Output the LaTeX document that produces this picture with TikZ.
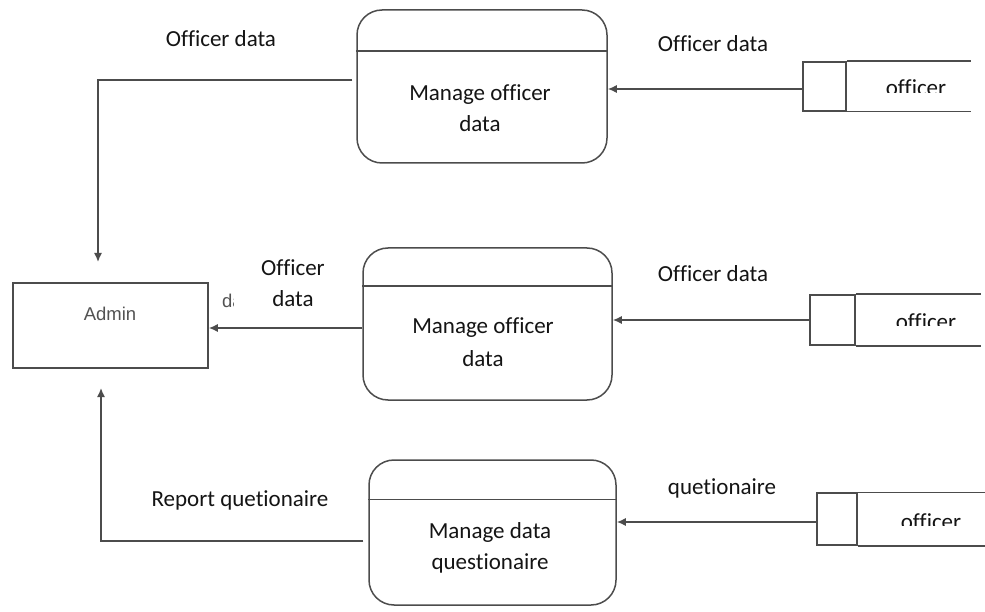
\documentclass[tikz,border=0pt]{standalone}
\usepackage{fontspec}
\setmainfont{Carlito}[Ligatures=NoCommon]
\newfontfamily\adminfont{Liberation Sans}
\usetikzlibrary{arrows.meta,calc}

\begin{document}
\begin{tikzpicture}[x=1pt,y=-1pt,
  line/.style={draw=black!70, line width=1.5pt},
  arrow/.style={line, -{Latex[length=9pt,width=8pt]}},
  proc/.style={rectangle, line, rounded corners=25pt, inner sep=0pt},
  entity/.style={rectangle, line, inner sep=0pt},
  storebox/.style={rectangle, line, inner sep=0pt},
  txt/.style={font=\fontsize{23}{28}\selectfont, text=black!92, inner sep=0pt, anchor=base},
  graytxt/.style={font=\adminfont\fontsize{18.5}{22}\selectfont, text=black!68, inner sep=0pt}
]
% canvas
\path[fill=white, use as bounding box] (0,0) rectangle (985,612);

% external entity
\node[entity, minimum width=195pt, minimum height=85pt] (admin) at (110.5,325.5) {};
\node[graytxt, anchor=base] (admintxt) at (110,320) {Admin};
\begin{scope}
  \clip (215,285) rectangle (233,315);
  \node[graytxt, anchor=base west] (dfrag) at (222,308) {da};
\end{scope}

% processes
\node[proc, minimum width=250pt, minimum height=153pt] (p1) at (482,86.5) {};
\draw[line] ($(p1.north west)+(0,42)$) -- ($(p1.north east)+(0,42)$);
\node[txt] (p1a) at (480,101) {Manage officer};
\node[txt] (p1b) at (480,132) {data};

\node[proc, minimum width=249pt, minimum height=152pt] (p2) at (487.5,324) {};
\draw[line] ($(p2.north west)+(0,39)$) -- ($(p2.north east)+(0,39)$);
\node[txt] (p2a) at (483,334) {Manage officer};
\node[txt] (p2b) at (483,366) {data};

\node[proc, minimum width=247pt, minimum height=145pt] (p3) at (492.5,532.5) {};
\draw[line] ($(p3.north west)+(0,40)$) -- ($(p3.north east)+(0,40)$);
\node[txt] (p3a) at (490,538) {Manage data};
\node[txt] (p3b) at (490,569) {questionaire};

% data stores
\node[storebox, minimum width=43pt, minimum height=49pt] (s1) at (824.5,86.5) {};
\draw[line] (s1.north east) -- ++(124,0) (s1.south east) -- ++(124,0);
\begin{scope}
  \clip (848,60) rectangle (975,93);
  \node[txt] (s1t) at (916,96) {officer};
\end{scope}

\node[storebox, minimum width=45pt, minimum height=50pt] (s2) at (832.5,320) {};
\draw[line] (s2.north east) -- ++(125,0) (s2.south east) -- ++(125,0);
\begin{scope}
  \clip (857,293) rectangle (985,325);
  \node[txt] (s2t) at (926,329) {officer};
\end{scope}

\node[storebox, minimum width=40pt, minimum height=52pt] (s3) at (837,519) {};
\draw[line] (s3.north east) -- ++(128,0) (s3.south east) -- ++(128,0);
\begin{scope}
  \clip (859,491) rectangle (985,525);
  \node[txt] (s3t) at (931,529) {officer};
\end{scope}

% flows from the stores into the processes
\draw[arrow] ([yshift=-2.5pt]s1.west) -- ([yshift=-2.5pt]s1.west -| p1.east);
\draw[arrow] (s2.west) -- (s2.west -| p2.east);
\draw[arrow] ([yshift=-3pt]s3.west) -- ([yshift=-3pt]s3.west -| p3.east);

% flows from the processes to the admin
\coordinate (e1) at (98,262);
\coordinate (e3) at (101,388);
\draw[arrow, shorten <=4pt] ([yshift=6.5pt]p1.west) -| (e1);
\draw[arrow] ([yshift=-4pt]p2.west) -- ([yshift=-4pt]p2.west -| admin.east);
\draw[arrow, shorten <=5pt] ([yshift=-8.5pt]p3.west) -| (e3);

% flow labels
\node[txt] (l1) at (221,47) {Officer data};
\node[txt] (l2) at (713,52) {Officer data};
\node[txt] (l3a) at (293,276) {Officer};
\node[txt] (l3b) at (293,307) {data};
\node[txt] (l4) at (713,282) {Officer data};
\node[txt] (l5) at (240,506) {Report quetionaire};
\node[txt] (l6) at (722,494) {quetionaire};
\end{tikzpicture}
\end{document}
